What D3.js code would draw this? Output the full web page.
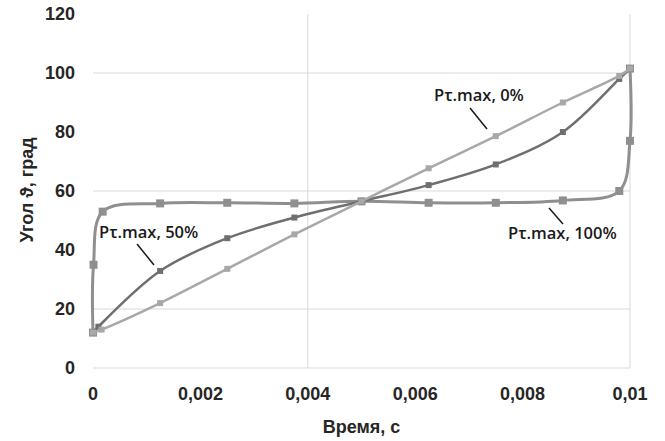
<!DOCTYPE html>
<html>
<head>
<meta charset="utf-8">
<script src="https://cdn.jsdelivr.net/npm/d3@7"></script>
<style>
  body { margin: 0; background: #fff; }
  svg { display: block; }
  .tick-label { font-family: "Liberation Sans", Arial, sans-serif; font-weight: bold; font-size: 18px; fill: #262626; }
  .axis-title { font-family: "Liberation Sans", Arial, sans-serif; font-weight: bold; font-size: 18px; fill: #262626; }
  .series-label { font-family: "Open Sans", "Noto Sans", sans-serif; font-weight: 600; font-size: 16.5px; fill: #1a1a1a; }
</style>
</head>
<body>
<svg id="chart" width="665" height="441"></svg>
<script>
// ticks
const xTicks = [0, 0.002, 0.004, 0.006, 0.008, 0.01];
const xTickLabels = ["0", "0,002", "0,004", "0,006", "0,008", "0,01"];
const yTicks = [0, 20, 40, 60, 80, 100, 120];
const gridY = [20, 60, 100];
const gridX = [0.004, 0.01];

// Pт.max, 100%
const time100 = [0, 0.00001, 0.00018, 0.00125, 0.0025, 0.00375, 0.005, 0.00625, 0.0075, 0.00875, 0.0098, 0.01, 0.01];
const angle100 = [12, 35, 53, 55.8, 56, 55.8, 56.5, 56, 56, 56.8, 60, 77, 101.5];

// Pт.max, 50%
const time50 = [0, 0.0001, 0.00125, 0.0025, 0.00375, 0.005, 0.00625, 0.0075, 0.00875, 0.0098, 0.01];
const angle50 = [12, 14, 32.9, 44, 51, 56.5, 62, 69, 80, 98, 101.5];

// Pт.max, 0%
const time0 = [0, 0.00016, 0.00125, 0.0025, 0.00375, 0.005, 0.00625, 0.0075, 0.00875, 0.0098, 0.01];
const angle0 = [12, 13, 22, 33.6, 45.3, 56.5, 67.7, 78.6, 90, 99, 101.5];

const svg = d3.select("#chart");

const x = d3.scaleLinear().domain([0, 0.01]).range([93, 630]);
const y = d3.scaleLinear().domain([0, 120]).range([368, 14]);

// grid
svg.append("g").selectAll("line")
  .data(gridY)
  .enter().append("line")
  .attr("x1", x(0)).attr("x2", x(0.01))
  .attr("y1", d => y(d)).attr("y2", d => y(d))
  .attr("stroke", "#d9d9d9").attr("stroke-width", 1);

svg.append("g").selectAll("line")
  .data(gridX)
  .enter().append("line")
  .attr("x1", d => x(d)).attr("x2", d => x(d))
  .attr("y1", y(120)).attr("y2", y(0))
  .attr("stroke", "#d9d9d9").attr("stroke-width", 1);

// x axis line
svg.append("line")
  .attr("x1", x(0)).attr("x2", x(0.01))
  .attr("y1", y(0)).attr("y2", y(0))
  .attr("stroke", "#d9d9d9").attr("stroke-width", 1);

// tick labels
svg.append("g").selectAll("text")
  .data(yTicks)
  .enter().append("text")
  .attr("class", "tick-label")
  .attr("x", 75)
  .attr("y", d => y(d))
  .attr("dy", "0.35em")
  .attr("text-anchor", "end")
  .text(d => d);

svg.append("g").selectAll("text")
  .data(xTicks)
  .enter().append("text")
  .attr("class", "tick-label")
  .attr("x", d => x(d))
  .attr("y", 400)
  .attr("text-anchor", "middle")
  .text((d, i) => xTickLabels[i]);

// axis titles
svg.append("text")
  .attr("class", "axis-title")
  .attr("x", x(0.005))
  .attr("y", 433)
  .attr("text-anchor", "middle")
  .text("Время, с");

svg.append("text")
  .attr("class", "axis-title")
  .attr("transform", "translate(33,190) rotate(-90)")
  .attr("text-anchor", "middle")
  .text("Угол ϑ, град");

// series
const line = d3.line()
  .x(d => x(d[0]))
  .y(d => y(d[1]))
  .curve(d3.curveCatmullRom.alpha(0.5));

const series = [
  { t: time100, v: angle100, color: "#8f8f8f", width: 3, marker: 8 },
  { t: time50, v: angle50, color: "#6f6f6f", width: 2.5, marker: 6 },
  { t: time0, v: angle0, color: "#a8a8a8", width: 2.5, marker: 6 }
];

series.forEach(s => {
  const pts = s.t.map((t, i) => [t, s.v[i]]);
  svg.append("path")
    .datum(pts)
    .attr("fill", "none")
    .attr("stroke", s.color)
    .attr("stroke-width", s.width)
    .attr("d", line);

  svg.append("g").selectAll("rect")
    .data(pts)
    .enter().append("rect")
    .attr("x", d => x(d[0]) - s.marker / 2)
    .attr("y", d => y(d[1]) - s.marker / 2)
    .attr("width", s.marker)
    .attr("height", s.marker)
    .attr("fill", s.color);
});

// labels with leader lines
const labels = [
  { text: "Pτ.max, 0%", x: 434, y: 101, l: [470, 108, 487, 129] },
  { text: "Pτ.max, 50%", x: 99, y: 238, l: [137, 244, 154, 265] },
  { text: "Pτ.max, 100%", x: 508, y: 239, l: [563, 224, 549, 208] }
];

labels.forEach(d => {
  svg.append("text")
    .attr("class", "series-label")
    .attr("x", d.x)
    .attr("y", d.y)
    .text(d.text);
  svg.append("line")
    .attr("x1", d.l[0]).attr("y1", d.l[1])
    .attr("x2", d.l[2]).attr("y2", d.l[3])
    .attr("stroke", "#1a1a1a")
    .attr("stroke-width", 1.5);
});
</script>
</body>
</html>
